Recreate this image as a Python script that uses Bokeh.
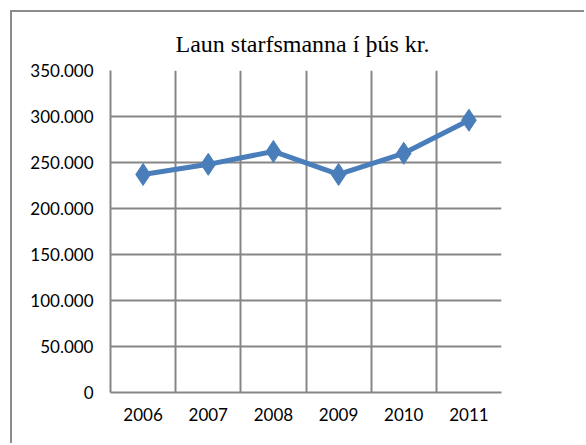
from bokeh.plotting import figure
from bokeh.models import FixedTicker, Range1d, ColumnDataSource
from bokeh.embed import file_html
from bokeh.resources import INLINE

years = ["2006", "2007", "2008", "2009", "2010", "2011"]
wages = [237000, 248000, 262000, 237000, 260000, 296000]
y_ticks = [0, 50000, 100000, 150000, 200000, 250000, 300000, 350000]
title_text = "Laun starfsmanna í þús kr."

xs = [i + 0.5 for i in range(len(years))]
src = ColumnDataSource(dict(x=xs, y=wages))

GRID = "#868686"
BLUE = "#4A7EBB"

p = figure(width=572, height=431, output_backend="svg", toolbar_location=None,
           x_range=Range1d(0, len(years)), y_range=Range1d(0, 350000),
           min_border_left=98, min_border_right=83, min_border_top=58, min_border_bottom=51,
           frame_width=391, frame_height=322, margin=(10, 0, 0, 10))
p.styles = {"border-left": "2px solid #8c8c8c", "border-top": "2px solid #8c8c8c"}
p.title.text = title_text
p.title.align = "left"
p.title.offset = 65
p.title.text_font = "Liberation Serif"
p.title.text_font_size = "24px"
p.title.text_font_style = "normal"
p.title.text_color = "#000000"
p.title.standoff = 27
p.outline_line_color = None

p.line("x", "y", source=src, line_color=BLUE, line_width=5)
p.scatter("x", "y", source=src, marker="diamond", size=22, fill_color=BLUE, line_color=BLUE)

# grid
p.xgrid.ticker = FixedTicker(ticks=list(range(len(years) + 1)))
p.ygrid.ticker = FixedTicker(ticks=y_ticks)
for g in (p.xgrid, p.ygrid):
    g.grid_line_color = GRID
    g.grid_line_width = 2

# axes
p.xaxis.ticker = FixedTicker(ticks=xs)
p.xaxis.major_label_overrides = {x: y for x, y in zip(xs, years)}
p.yaxis.ticker = FixedTicker(ticks=y_ticks)
p.yaxis.major_label_overrides = {t: (f"{t:,}".replace(",", ".") if t else "0") for t in y_ticks}
for ax in (p.xaxis, p.yaxis):
    ax.axis_line_color = GRID
    ax.axis_line_width = 2
    ax.major_tick_line_color = None
    ax.minor_tick_line_color = None
    ax.major_label_text_font = "Lato"
    ax.major_label_text_font_size = "17px"
    ax.major_label_text_color = "#000000"
p.xaxis.major_label_standoff = 9
p.yaxis.major_label_standoff = 11

open("out.html", "w").write(file_html(p, INLINE))
